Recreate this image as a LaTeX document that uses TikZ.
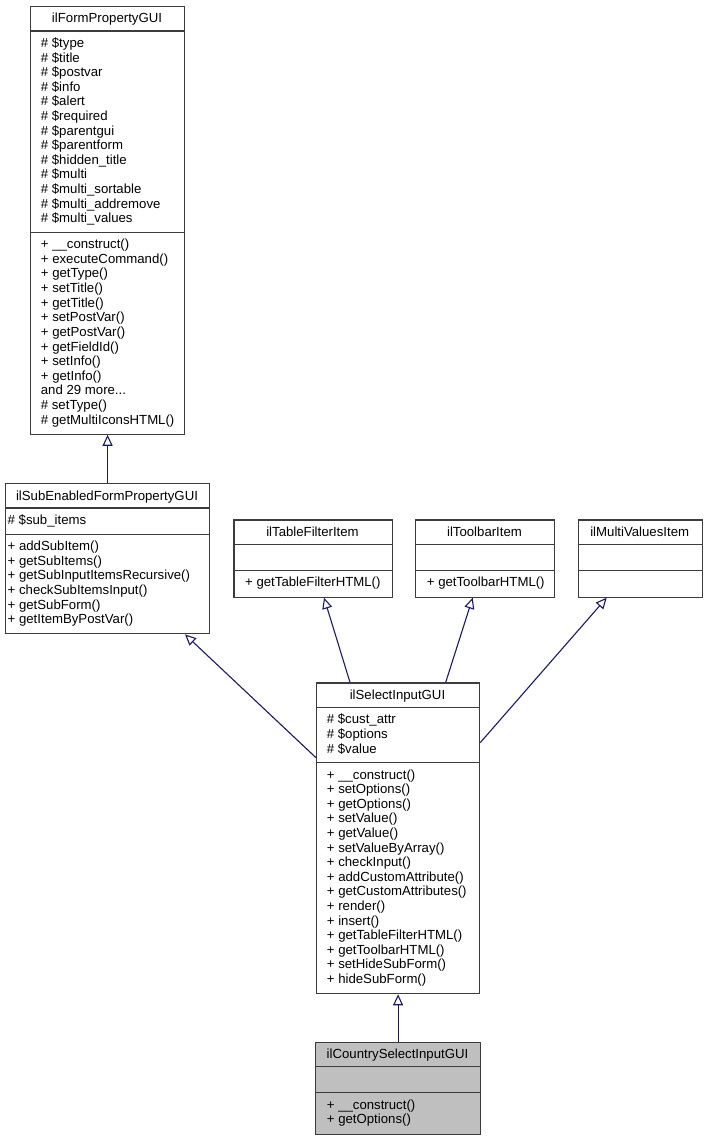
\documentclass[tikz,border=0pt]{standalone}
\usepackage{fontspec}
\setmainfont{Liberation Sans}
\usetikzlibrary{arrows.meta}
\definecolor{edgec}{RGB}{25,25,112}
\definecolor{bordc}{RGB}{60,60,60}
\definecolor{hilite}{RGB}{191,191,191}
\tikzset{
  cls/.style={draw=bordc, line width=1.2pt, inner sep=0pt, anchor=north west, fill=white},
  sepline/.style={draw=bordc, line width=1.2pt},
  txt/.style={anchor=base west, inner sep=0pt, font=\fontsize{13.2}{14.6}\selectfont},
  ttl/.style={anchor=base, inner sep=0pt, font=\fontsize{13.2}{14.6}\selectfont},
  inh/.style={draw=edgec, line width=1.1pt, -{Triangle[open, length=11pt, width=10pt]}},
}
\newcommand\mydots{...}
\newcommand\cmpt[4]{\foreach \s [count=\i from 0] in {#4} {\node[txt] (#1-\i) at (#2, {#3+\i*14.6}) {\s};}}
\begin{document}
\begin{tikzpicture}[x=1pt, y=-1pt]
\useasboundingbox (0,0) rectangle (706,1139);
\fill[white] (0,0) rectangle (706,1139);

% ilFormPropertyGUI
\node[cls, minimum width=154pt, minimum height=427.6pt] (fpg) at (30,6) {};
\node[ttl] (fpg-title) at (107,23) {ilFormPropertyGUI};
\draw[sepline] (fpg.west |- 0,31) -- (fpg.east |- 0,31);
\draw[sepline] (fpg.west |- 0,232.3) -- (fpg.east |- 0,232.3);
\cmpt{fpga}{40.7}{47.5}{\# \$type, \# \$title, \# \$postvar, \# \$info, \# \$alert, \# \$required, \# \$parentgui, \# \$parentform, \# \$hidden\_title, \# \$multi, \# \$multi\_sortable, \# \$multi\_addremove, \# \$multi\_values}
\cmpt{fpgm}{40.7}{248.8}{+ \_\_construct(), + executeCommand(), + getType(), + setTitle(), + getTitle(), + setPostVar(), + getPostVar(), + getFieldId(), + setInfo(), + getInfo(), {and 29 more\mydots}, \# setType(), \# getMultiIconsHTML()}

% ilSubEnabledFormPropertyGUI
\node[cls, minimum width=204pt, minimum height=150.2pt] (sub) at (5,483) {};
\node[ttl] (sub-title) at (107,500) {ilSubEnabledFormPropertyGUI};
\draw[sepline] (sub.west |- 0,508) -- (sub.east |- 0,508);
\draw[sepline] (sub.west |- 0,534.1) -- (sub.east |- 0,534.1);
\cmpt{suba}{7.5}{524.5}{\# \$sub\_items}
\cmpt{subm}{7.5}{550.6}{+ addSubItem(), + getSubItems(), + getSubInputItemsRecursive(), + checkSubItemsInput(), + getSubForm(), + getItemByPostVar()}

% ilTableFilterItem
\node[cls, minimum width=158.4pt, minimum height=77.2pt] (tfi) at (233.3,519.3) {};
\node[ttl] (tfi-title) at (312.5,536.3) {ilTableFilterItem};
\draw[sepline] (tfi.west |- 0,544.3) -- (tfi.east |- 0,544.3);
\draw[sepline] (tfi.west |- 0,570.4) -- (tfi.east |- 0,570.4);
\cmpt{tfim}{245}{586.9}{+ getTableFilterHTML()}

% ilToolbarItem
\node[cls, minimum width=139pt, minimum height=77.2pt] (tbi) at (415,519.3) {};
\node[ttl] (tbi-title) at (484.5,536.3) {ilToolbarItem};
\draw[sepline] (tbi.west |- 0,544.3) -- (tbi.east |- 0,544.3);
\draw[sepline] (tbi.west |- 0,570.4) -- (tbi.east |- 0,570.4);
\cmpt{tbim}{426.7}{586.9}{+ getToolbarHTML()}

% ilMultiValuesItem
\node[cls, minimum width=124pt, minimum height=77.2pt] (mvi) at (577.7,519.3) {};
\node[ttl] (mvi-title) at (639.7,536.3) {ilMultiValuesItem};
\draw[sepline] (mvi.west |- 0,544.3) -- (mvi.east |- 0,544.3);
\draw[sepline] (mvi.west |- 0,570.4) -- (mvi.east |- 0,570.4);

% ilSelectInputGUI
\node[cls, minimum width=163pt, minimum height=310.8pt] (sel) at (316,682.3) {};
\node[ttl] (sel-title) at (397.5,699.3) {ilSelectInputGUI};
\draw[sepline] (sel.west |- 0,707.3) -- (sel.east |- 0,707.3);
\draw[sepline] (sel.west |- 0,762.6) -- (sel.east |- 0,762.6);
\cmpt{sela}{326.7}{723.8}{\# \$cust\_attr, \# \$options, \# \$value}
\cmpt{selm}{326.7}{779.1}{+ \_\_construct(), + setOptions(), + getOptions(), + setValue(), + getValue(), + setValueByArray(), + checkInput(), + addCustomAttribute(), + getCustomAttributes(), + render(), + insert(), + getTableFilterHTML(), + getToolbarHTML(), + setHideSubForm(), + hideSubForm()}

% ilCountrySelectInputGUI
\node[cls, fill=hilite, minimum width=165pt, minimum height=91.8pt] (cty) at (315,1041.7) {};
\node[ttl] (cty-title) at (397.5,1058.7) {ilCountrySelectInputGUI};
\draw[sepline] (cty.west |- 0,1066.7) -- (cty.east |- 0,1066.7);
\draw[sepline] (cty.west |- 0,1092.8) -- (cty.east |- 0,1092.8);
\cmpt{ctym}{326.7}{1109.3}{+ \_\_construct(), + getOptions()}

% inheritance arrows
\draw[inh] (sub.north) -- (fpg.south);
\draw[inh] (sel.west |- 0,757.7) -- (sub.south -| 185,0);
\draw[inh] (sel.north -| 350,0) -- (tfi.south -| 324,0);
\draw[inh] (sel.north -| 445.7,0) -- (tbi.south -| 472.7,0);
\draw[inh] (sel.east |- 0,742.7) -- (mvi.south -| 606.7,0);
\draw[inh] (cty.north) -- (sel.south);
\end{tikzpicture}
\end{document}
